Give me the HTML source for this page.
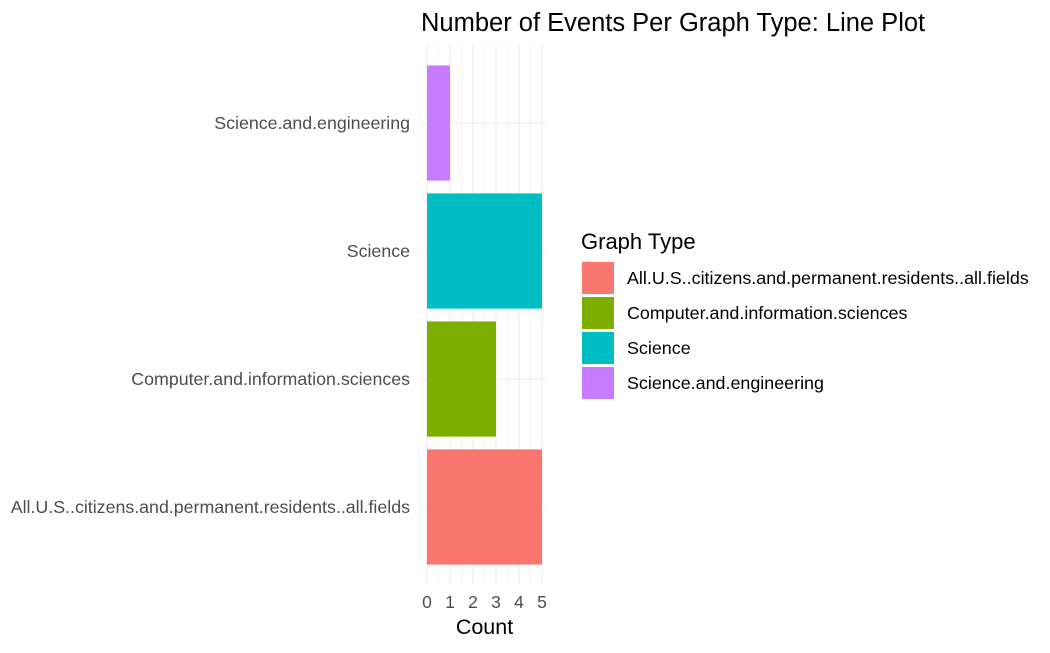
<!DOCTYPE html>
<html><head><meta charset="utf-8"><style>
body{margin:0;background:#fff;font-family:"Liberation Sans",Arial,sans-serif}
</style></head><body>
<svg width="1050" height="648" xmlns="http://www.w3.org/2000/svg" font-family="Liberation Sans, Arial, sans-serif">
<text x="421" y="31" font-size="25.5" fill="#000">Number of Events Per Graph Type: Line Plot</text>
<g id="grid"></g>
<g id="bars"></g>
<g id="ylabels"></g>
<g id="xlabels"></g>
<text x="484.5" y="634" font-size="21.5" text-anchor="middle" fill="#000">Count</text>
<g id="legend">
<text x="581" y="249" font-size="22" fill="#000">Graph Type</text>
</g>
</svg>
<script>
const categories=["All.U.S..citizens.and.permanent.residents..all.fields","Computer.and.information.sciences","Science","Science.and.engineering"];
const values=[5,3,5,1];
const colors=["#F8766D","#7CAE00","#00BFC4","#C77CFF"];
const xTicks=[0,1,2,3,4,5];
const NS="http://www.w3.org/2000/svg";
function mk(t,a,p){const e=document.createElementNS(NS,t);for(const k in a)e.setAttribute(k,a[k]);p.appendChild(e);return e;}
const x0=427,pxu=23,panelL=421.25,panelR=547.75,panelT=46,panelB=584,step=128;
const xs=v=>x0+v*pxu;
const yc=i=>507-i*step;
const grid=document.getElementById('grid');
for(let v=0;v<=5;v+=0.5){const l=mk('line',{x1:xs(v),x2:xs(v),y1:panelT,y2:panelB,stroke:'#ebebeb','stroke-width':v%1===0?1.1:0.6},grid);

}
categories.forEach((c,i)=>{const l=mk('line',{x1:panelL,x2:panelR,y1:yc(i),y2:yc(i),stroke:'#ebebeb','stroke-width':1.1},grid);

});
const bars=document.getElementById('bars'),yl=document.getElementById('ylabels');
categories.forEach((c,i)=>{const h=0.9*step;
const r=mk('rect',{x:xs(0),y:yc(i)-h/2,width:xs(values[i])-xs(0),height:h,fill:colors[i]},bars);


const t=mk('text',{x:410,y:yc(i)+6,'font-size':17.8,'text-anchor':'end',fill:'#4d4d4d'},yl);t.textContent=c;

});
const xl=document.getElementById('xlabels');
xTicks.forEach(v=>{const t=mk('text',{x:xs(v),y:608,'font-size':17.5,'text-anchor':'middle',fill:'#4d4d4d'},xl);t.textContent=v;

});
const lg=document.getElementById('legend');
categories.forEach((c,i)=>{const y=262+i*35;
const r=mk('rect',{x:582,y:y,width:32,height:32,fill:colors[i]},lg);


const t=mk('text',{x:627,y:y+22,'font-size':17.9,fill:'#000'},lg);t.textContent=c;

});
</script>
</body></html>
